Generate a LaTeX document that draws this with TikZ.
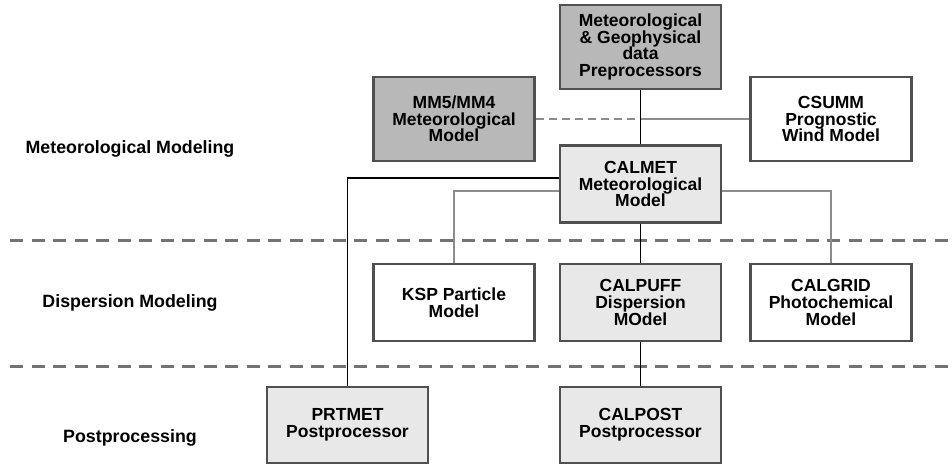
\documentclass[tikz,border=0pt]{standalone}
\usepackage{fontspec}
\setmainfont{Liberation Sans}
\usetikzlibrary{calc}
\definecolor{darkfill}{RGB}{184,184,184}
\definecolor{lightfill}{RGB}{232,232,232}
\definecolor{boxline}{RGB}{80,80,80}
\definecolor{greyline}{RGB}{140,140,140}
\definecolor{sepline}{RGB}{115,115,115}
\begin{document}
\begin{tikzpicture}[x=1pt,y=-1pt,
  box/.style={draw=boxline, line width=2.6pt, minimum width=161pt, align=center,
    inner sep=0pt, font=\bfseries\fontsize{17.5}{16.7}\selectfont},
  darkbox/.style={box, fill=darkfill, minimum height=84pt},
  tallwhite/.style={box, fill=white, minimum height=84pt},
  lightbox/.style={box, fill=lightfill, minimum height=77pt},
  whitebox/.style={box, fill=white, minimum height=77pt},
  rowlabel/.style={font=\bfseries\fontsize{17.8}{20}\selectfont, inner sep=0pt},
  blackcon/.style={draw=black, line width=1.8pt},
  greycon/.style={draw=greyline, line width=1.6pt},
  sep/.style={draw=sepline, line width=3pt, dash pattern=on 13pt off 8.5pt}]
\useasboundingbox (0,0) rectangle (952,465);

% separators
\coordinate (s1a) at (10,240);
\coordinate (s1b) at (952,240);
\coordinate (s2a) at (10,366);
\coordinate (s2b) at (952,366);
\draw[sep] (s1a) -- (s1b);
\draw[sep] (s2a) -- (s2b);

% row labels
\node[rowlabel] (lab1) at (130,149) {Meteorological Modeling};
\node[rowlabel] (lab2) at (130,303) {Dispersion Modeling};
\node[rowlabel] (lab3) at (130,438) {Postprocessing};

% boxes
\node[darkbox] (metgeo) at (640.5,47) {Meteorological\\\& Geophysical\\data\\Preprocessors};
\node[darkbox] (mm5) at (454,119) {MM5/MM4\\Meteorological\\Model};
\node[tallwhite] (csumm) at (831,119) {CSUMM\\Prognostic\\Wind Model};
\node[lightbox] (calmet) at (640.5,184) {CALMET\\Meteorological\\Model};
\node[whitebox] (ksp) at (454,302.5) {KSP Particle\\Model};
\node[lightbox] (calpuff) at (640.5,302.5) {CALPUFF\\Dispersion\\MOdel};
\node[whitebox] (calgrid) at (831,302.5) {CALGRID\\Photochemical\\Model};
\node[lightbox, minimum height=76pt] (prtmet) at (347.5,425) {PRTMET\\Postprocessor};
\node[lightbox, minimum height=76pt] (calpost) at (640.5,425) {CALPOST\\Postprocessor};

% connectors
\coordinate (j) at (metgeo.south |- mm5.east);
\draw[greyline, line width=1.5pt, dash pattern=on 8pt off 5pt] (mm5.east) -- (j);
\draw[greycon] (j) -- (csumm.west);
\draw[blackcon] (metgeo.south) -- (calmet.north);
\coordinate (cl1) at ($(calmet.west)+(0,-6)$);
\coordinate (cl2) at ($(calmet.west)+(0,7)$);
\coordinate (cr2) at ($(calmet.east)+(0,7)$);
\draw[blackcon] (cl1) -| (prtmet.north);
\draw[greycon] (cl2) -| (ksp.north);
\draw[greycon] (cr2) -| (calgrid.north);
\draw[blackcon] (calmet.south) -- (calpuff.north);
\draw[blackcon] (calpuff.south) -- (calpost.north);
\end{tikzpicture}
\end{document}
